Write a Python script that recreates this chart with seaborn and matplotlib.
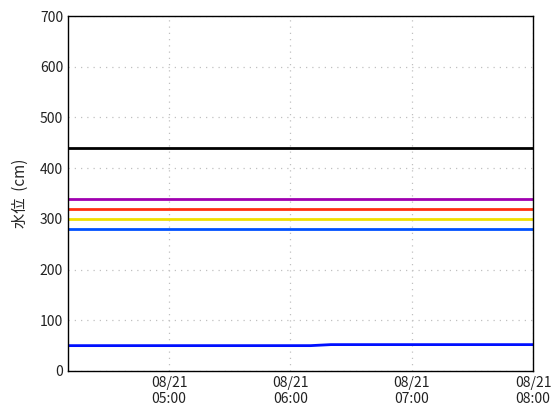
import matplotlib
matplotlib.use('Agg')

import pandas as pd
import matplotlib.pyplot as plt
import matplotlib.dates as mdates
import seaborn as sns

# water level readings every 10 minutes
times = pd.date_range("2024-08-21 04:10", "2024-08-21 08:00", freq="10min")
levels = [50, 50, 50, 50, 50, 50, 50, 50, 50, 50, 50, 50, 50,
          52, 52, 52, 52, 52, 52, 52, 52, 52, 52, 52]

# reference levels (cm)
ref_levels = [440, 339, 320, 300, 280]
ref_colors = ["#000000", "#a000b0", "#ff3010", "#f0e000", "#0050ff"]

df = pd.DataFrame({"time": times, "level": levels})

sns.set_style("white")
plt.rcParams['font.family'] = ['Noto Sans CJK JP', 'DejaVu Sans']

fig = plt.figure(figsize=(5.6, 4.2), dpi=100)
ax = fig.add_axes([0.1214, 0.1167, 0.8304, 0.8452])

for lv, c in zip(ref_levels, ref_colors):
    ax.axhline(lv, color=c, lw=2)

sns.lineplot(x="time", y="level", data=df, ax=ax, color="#0010ff", lw=2)

ax.set_ylim(0, 700)
ax.set_xlim(times[0], times[-1])
ax.set_yticks(range(0, 701, 100))
ax.set_xticks(pd.date_range("2024-08-21 05:00", "2024-08-21 08:00", freq="1h"))
ax.xaxis.set_major_formatter(mdates.DateFormatter("%m/%d\n%H:%M"))
ax.grid(True, ls=(0, (1, 4)), color="#c0c0c0", lw=0.9)
ax.tick_params(direction="in", length=5, color="black", labelsize=10, labelcolor="#222222")
for s in ax.spines.values():
    s.set_color("black")
    s.set_linewidth(1)

ax.set_xlabel("")
ax.set_ylabel("水位  (cm)", fontsize=11, labelpad=8)

plt.savefig("out.png", dpi=100)
